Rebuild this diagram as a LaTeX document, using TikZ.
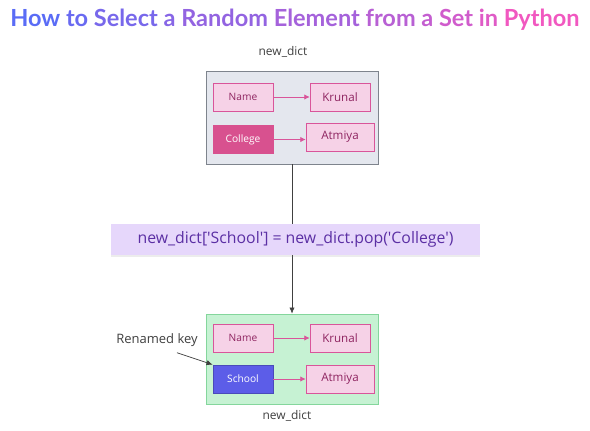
\documentclass[tikz,border=0pt]{standalone}
\usepackage{fontspec}
\setmainfont{Open Sans}
\newfontfamily\titlefont{Lato}
\newfontfamily\codefont[Ligatures=TeXOff]{Open Sans}
\usetikzlibrary{positioning,arrows.meta,shadows}

\definecolor{tblue}{HTML}{5A6CF6}
\definecolor{tpink}{HTML}{F158C0}
\definecolor{pinkline}{HTML}{D9559A}
\definecolor{pinkfill}{HTML}{F6D2E7}
\definecolor{pinktext}{HTML}{8E2460}
\definecolor{collegefill}{HTML}{D8518F}
\definecolor{topfill}{HTML}{E4E7EE}
\definecolor{topline}{HTML}{7E848D}
\definecolor{codefill}{HTML}{E6D7FB}
\definecolor{codetext}{HTML}{5B2FA4}
\definecolor{botfill}{HTML}{C6F2D3}
\definecolor{botline}{HTML}{84D69C}
\definecolor{schoolfill}{HTML}{5C5DE8}
\definecolor{labeltext}{HTML}{3F3F3F}

\begin{document}
\begin{tikzpicture}[
  x=0.02cm, y=-0.02cm,
  keybox/.style={draw=pinkline,fill=pinkfill,text=pinktext,minimum width=1.2cm,
    minimum height=0.56cm,inner sep=0pt,font=\fontsize{5.8}{7}\selectfont},
  dictbox/.style={draw,minimum width=3.44cm,inner sep=0pt},
  link/.style={draw=pinkline,-{Latex[length=3pt,width=3pt]}},
  caption/.style={text=labeltext,font=\fontsize{6.8}{8}\selectfont}
]
\useasboundingbox (0,0) rectangle (590,430);

% title
\node[font=\titlefont\bfseries\fontsize{13.4}{16}\selectfont] (title) at (295,20)
  {\color{tblue}How \color{tblue!90!tpink}to \color{tblue!80!tpink}Select
   \color{tblue!70!tpink}a \color{tblue!62!tpink}Random \color{tblue!50!tpink}Element
   \color{tblue!38!tpink}from \color{tblue!30!tpink}a \color{tblue!22!tpink}Set
   \color{tblue!12!tpink}in \color{tpink}Python};

% before
\node[caption] (toplbl) at (283,52) {new\_dict};
\node[dictbox,draw=topline,fill=topfill,minimum height=1.86cm] (top) at (292,117.5) {};
\node[keybox] (name) at (243,97) {Name};
\node[keybox,font=\fontsize{6.6}{8}\selectfont] (krunal) at (340,97) {Krunal};
\node[keybox,fill=collegefill,draw=collegefill,text=white] (college) at (243,139.5) {College};
\node[keybox,minimum width=1.36cm,font=\fontsize{6.6}{8}\selectfont] (atmiya) at (340,137) {Atmiya};
\draw[link] (name) -- (krunal);
\draw[link] (college) -- (college -| atmiya.west);

% after
\node[dictbox,draw=botline,fill=botfill,minimum height=1.8cm] (bot) at (292,359) {};
\node[keybox] (name2) at (243,338) {Name};
\node[keybox,font=\fontsize{6.6}{8}\selectfont] (krunal2) at (340,338) {Krunal};
\node[keybox,fill=schoolfill,draw=schoolfill!80!black,text=white] (school) at (243,379) {School};
\node[keybox,minimum width=1.36cm,font=\fontsize{6.6}{8}\selectfont] (atmiya2) at (340,379) {Atmiya};
\draw[link] (name2) -- (krunal2);
\draw[link] (school) -- (atmiya2);
\node[caption] (botlbl) at (287,416) {new\_dict};

% operation
\draw[-{Latex[length=3.5pt,width=3pt]},black!75] (top) -- (bot);
\node[fill=codefill,text=codetext,minimum width=7.38cm,minimum height=0.62cm,
  drop shadow={shadow xshift=0pt,shadow yshift=-1pt,opacity=0.15},
  font=\codefont\fontsize{9}{11}\selectfont] (code) at (295.5,239.5)
  {new\_dict['School'] = new\_dict.pop('College')};

% note
\node[caption,font=\fontsize{7.4}{9}\selectfont] (note) at (157,340) {Renamed key};
\draw[-{Latex[length=3.5pt,width=3pt]},labeltext] ([xshift=0.4cm]note.south) -- (school.north west);
\end{tikzpicture}
\end{document}
